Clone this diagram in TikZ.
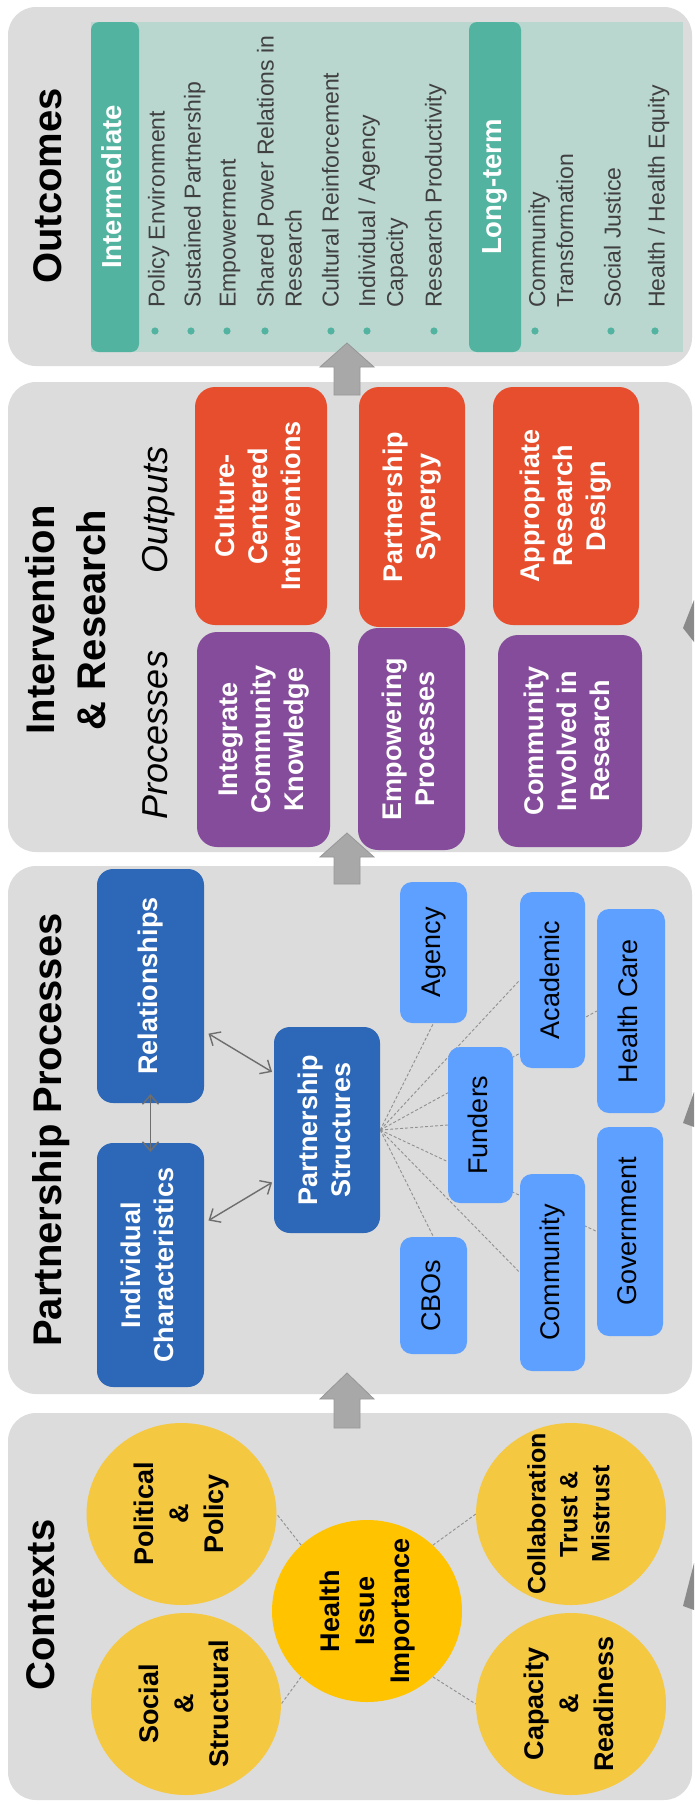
\documentclass[tikz,border=0pt]{standalone}
\usepackage{fontspec}
\setmainfont{Liberation Sans}
\usepackage{graphicx}
\usetikzlibrary{shapes.geometric,arrows.meta}

\definecolor{panelgray}{HTML}{DCDCDC}
\definecolor{tealdark}{HTML}{52B4A0}
\definecolor{teallight}{HTML}{B9D6CF}
\definecolor{orangebox}{HTML}{E64E2D}
\definecolor{purplebox}{HTML}{844C9A}
\definecolor{bluedark}{HTML}{2D68B8}
\definecolor{bluelight}{HTML}{5DA0FF}
\definecolor{yellowctx}{HTML}{F5C842}
\definecolor{yellowhub}{HTML}{FFC300}
\definecolor{arrowgray}{HTML}{A8A8A8}
\definecolor{arrowedge}{HTML}{979797}
\definecolor{textgray}{HTML}{404040}
\definecolor{linkgray}{HTML}{6E6E6E}
\definecolor{spokegray}{HTML}{909090}
\definecolor{slivergray}{HTML}{8A8A8A}

\pgfdeclarelayer{panels}
\pgfdeclarelayer{links}
\pgfsetlayers{panels,links,main}

% vertical (bottom-to-top) text blocks
\newcommand{\vt}[1]{\rotatebox{90}{\begin{tabular}{@{}c@{}}#1\end{tabular}}}
\newcommand{\vtl}[1]{\rotatebox{90}{\begin{tabular}{@{}l@{}}#1\end{tabular}}}

\tikzset{
  panel/.style={fill=panelgray, rounded corners=28pt},
  sz/.style 2 args={minimum width=#1pt, minimum height=#2pt},
  title/.style={inner sep=0pt, font=\fontsize{40}{51}\selectfont\bfseries},
  subtitle/.style={inner sep=0pt, font=\fontsize{36}{44}\selectfont\itshape},
  headbar/.style={rectangle, rounded corners=8pt, fill=tealdark, text=white, inner sep=0pt,
    font=\fontsize{27.5}{33}\selectfont\bfseries},
  item/.style={inner sep=0pt, text=textgray, font=\fontsize{23}{28}\selectfont, anchor=south},
  outbox/.style={rectangle, rounded corners=20pt, fill=orangebox, text=white, inner sep=0pt,
    font=\fontsize{27}{33}\selectfont\bfseries},
  procbox/.style={outbox, fill=purplebox},
  dkbox/.style={rectangle, rounded corners=16pt, fill=bluedark, text=white, inner sep=0pt,
    font=\fontsize{27}{33}\selectfont\bfseries},
  ltbox/.style={rectangle, rounded corners=12pt, fill=bluelight, text=black, inner sep=0pt,
    font=\fontsize{27}{33}\selectfont},
  ctx/.style={ellipse, fill=yellowctx, minimum width=190pt, minimum height=182pt, inner sep=-30pt,
    font=\fontsize{27}{35}\selectfont\bfseries},
  link/.style={draw=linkgray, line width=1.4pt, {Straight Barb[length=9pt,width=16pt]}-{Straight Barb[length=9pt,width=16pt]}},
  spoke/.style={draw=spokegray, line width=0.9pt, dash pattern=on 3pt off 2pt},
  ctxlink/.style={draw=spokegray, line width=0.9pt, dash pattern=on 3pt off 2pt},
  bigarrow/.style={fill=arrowgray, draw=arrowedge, line width=0.8pt},
}

\begin{document}
\begin{tikzpicture}[x=1pt,y=-1pt]
\useasboundingbox (0,0) rectangle (694,1805);

% ---------- panels ----------
\begin{pgfonlayer}{panels}
  \fill[white] (0,0) rectangle (694,1805);
  \fill[panel] (8,7) rectangle (692,366);
  \fill[panel] (8,382) rectangle (692,852);
  \fill[panel] (8,866) rectangle (692,1394);
  \fill[panel] (8,1413) rectangle (692,1800);
  \fill[teallight] (91,22) rectangle (683,352);
\end{pgfonlayer}

% ---------- flow arrows between panels ----------
\begin{pgfonlayer}{links}
  \foreach \tip/\base/\bot in {343/367/395, 833/857/884, 1373/1399/1428}
    \filldraw[bigarrow] (334,\bot) -- (334,\base) -- (320,\base) -- (347,\tip)
      -- (374,\base) -- (360,\base) -- (360,\bot) -- cycle;
\end{pgfonlayer}

% ---------- Outcomes ----------
\node[title] (tOut) at (51,186) {\vt{Outcomes}};
\node[headbar, sz={48}{330}] (interm) at (115,187) {\vt{Intermediate}};
\node[headbar, sz={52}{330}] (longterm) at (495,187) {\vt{Long-term}};

\node[item] (o1) at (159,308) {\vtl{Policy Environment}};
\node[item] (o2) at (195,308) {\vtl{Sustained Partnership}};
\node[item] (o3) at (230,308) {\vtl{Empowerment}};
\node[item] (o4) at (282,308) {\vtl{Shared Power Relations in\\Research}};
\node[item] (o5) at (333,308) {\vtl{Cultural Reinforcement}};
\node[item] (o6) at (383.5,308) {\vtl{Individual / Agency\\Capacity}};
\node[item] (o7) at (436,308) {\vtl{Research Productivity}};
\node[item] (l1) at (553.5,308) {\vtl{Community\\Transformation}};
\node[item] (l2) at (615,308) {\vtl{Social Justice}};
\node[item] (l3) at (659,308) {\vtl{Health / Health Equity}};
\foreach \bx in {155,191,227,265,331,367,434,535,611,655}
  \fill[tealdark] (\bx,331) circle[radius=3.6pt];

% ---------- Intervention & Research ----------
\node[title] (tIR) at (69.5,620) {\vt{Intervention\\\& Research}};
\node[subtitle] (tProc) at (159,735) {\vt{Processes}};
\node[subtitle] (tOutp) at (159,510) {\vt{Outputs}};

\node[outbox, sz={132}{238}] (cci) at (261,506) {\vt{Culture-\\Centered\\Interventions}};
\node[outbox, sz={106}{240}] (syn) at (412,507) {\vt{Partnership\\Synergy}};
\node[outbox, sz={146}{238}] (ard) at (566,506) {\vt{Appropriate\\Research\\Design}};
\node[procbox, sz={133}{215}] (ick) at (263.5,739.5) {\vt{Integrate\\Community\\Knowledge}};
\node[procbox, sz={107}{222}] (emp) at (411.5,739) {\vt{Empowering\\Processes}};
\node[procbox, sz={144}{212}] (cir) at (570,741) {\vt{Community\\Involved in\\Research}};

% ---------- Partnership Processes ----------
\node[title] (tPP) at (51,1130) {\vt{Partnership Processes}};
\node[dkbox, sz={107}{234}] (rel) at (150.5,986) {\vt{Relationships}};
\node[dkbox, sz={107}{244}] (ind) at (150.5,1265) {\vt{Individual\\Characteristics}};
\node[dkbox, sz={106}{206}] (ps) at (327,1130) {\vt{Partnership\\Structures}};
\node[ltbox, sz={67}{141}] (agency) at (433.5,952.5) {\vt{Agency}};
\node[ltbox, sz={67}{117}] (cbos) at (433.5,1295.5) {\vt{CBOs}};
\node[ltbox, sz={65}{156}] (funders) at (480.5,1125) {\vt{Funders}};
\node[ltbox, sz={65}{176}] (academic) at (552.5,980) {\vt{Academic}};
\node[ltbox, sz={65}{197}] (comm) at (552.5,1272.5) {\vt{Community}};
\node[ltbox, sz={68}{204}] (health) at (631,1011) {\vt{Health Care}};
\node[ltbox, sz={66}{209}] (gov) at (630,1231.5) {\vt{Government}};

\begin{pgfonlayer}{links}
  \foreach \t/\a in {agency/south, academic/west, health/west, funders/west,
                     gov/west, comm/west, cbos/north}
    \draw[spoke] (ps.east) -- (\t.\a);
\end{pgfonlayer}

\draw[link, shorten <=-9pt, shorten >=-9pt] (rel.south) -- (ind.north);
\draw[link, shorten <=5pt, shorten >=2pt] (rel.-40.7) -- (ps.133);
\draw[link, shorten <=5pt, shorten >=2pt] (ind.38) -- (ps.224.5);

% ---------- Contexts ----------
\node[title] (tCtx) at (44,1605) {\vt{Contexts}};
\node[ctx] (pol) at (181.5,1514) {\vt{Political\\\&\\Policy}};
\node[ctx] (soc) at (186,1704) {\vt{Social\\\&\\Structural}};
\node[ctx, font=\fontsize{25}{32}\selectfont\bfseries] (col) at (571,1514) {\vt{Collaboration\\Trust \&\\Mistrust}};
\node[ctx] (cap) at (571,1704) {\vt{Capacity\\\&\\Readiness}};
\node[ctx, fill=yellowhub] (hub) at (367,1611) {\vt{Health\\Issue\\Importance}};

\begin{pgfonlayer}{links}
  \draw[ctxlink] (hub.135) -- (pol.east);
  \draw[ctxlink] (hub.45) -- (col.west);
  \draw[ctxlink] (hub.225) -- (soc.east);
  \draw[ctxlink] (hub.-45) -- (cap.west);
\end{pgfonlayer}

% ---------- arrow tips entering at the right edge ----------
\fill[slivergray] (694,1563) -- (683,1606) -- (694,1610) -- cycle;
\fill[slivergray] (694,1092) -- (683,1123) -- (694,1127) -- cycle;
\fill[slivergray] (694,600) -- (683,628) -- (694,642) -- cycle;
\end{tikzpicture}
\end{document}
